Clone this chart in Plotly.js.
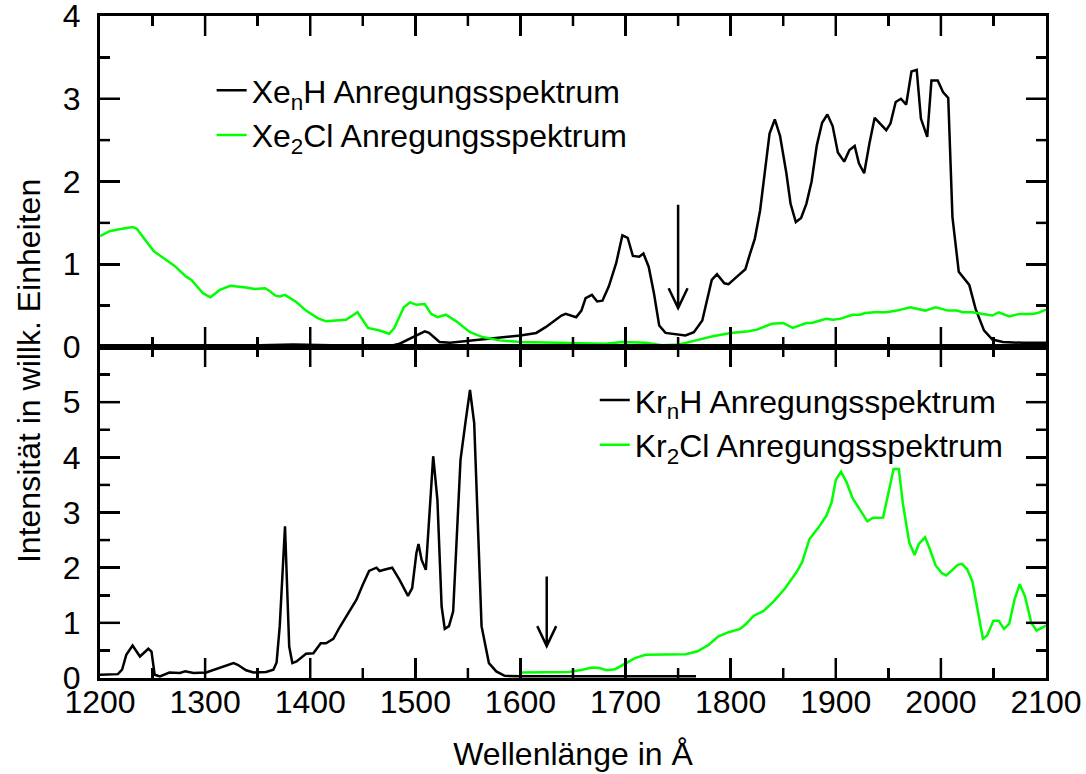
<!DOCTYPE html>
<html>
<head>
<meta charset="utf-8">
<script src="https://cdn.plot.ly/plotly-3.0.1.min.js"></script>
<style>html,body{margin:0;padding:0;background:#fff;}#chart{width:1086px;height:774px;position:absolute;left:0;top:0;}</style>
</head>
<body>
<div id="chart"></div>
<script>
// ---- Data ----
const xeH_wl  = [1200,1250,1300,1352,1384,1420,1447,1478,1485,1501,1509,1513,1523,1533,1564,1600,1615,1624,1639,1643,1653,1658,1662,1668,1673,1678,1684,1691,1697,1702,1707,1713,1717,1722,1727,1732,1738,1748,1757,1765,1773,1782,1787,1794,1798,1806,1811,1814,1818,1823,1828,1833,1837,1842,1847,1853,1857,1862,1867,1872,1877,1882,1887,1892,1897,1902,1908,1913,1918,1922,1927,1932,1937,1948,1952,1957,1962,1967,1972,1977,1981,1987,1991,1997,2002,2007,2011,2017,2027,2033,2041,2049,2059,2078,2100];
const xeH_int = [0.01,0.01,0.01,0.02,0.03,0.02,0.02,0.02,0.04,0.14,0.19,0.17,0.06,0.05,0.09,0.14,0.17,0.24,0.38,0.40,0.36,0.44,0.59,0.63,0.55,0.56,0.73,1.01,1.35,1.32,1.10,1.09,1.13,0.97,0.65,0.26,0.17,0.15,0.14,0.18,0.32,0.81,0.88,0.77,0.76,0.85,0.91,0.94,1.11,1.31,1.65,2.18,2.58,2.75,2.55,2.10,1.73,1.51,1.56,1.73,2.00,2.44,2.71,2.81,2.67,2.35,2.24,2.38,2.43,2.22,2.10,2.46,2.77,2.62,2.70,2.96,3.00,2.93,3.33,3.35,2.76,2.54,3.22,3.22,3.08,3.01,1.57,0.91,0.75,0.46,0.20,0.09,0.06,0.05,0.05];

const xeCl_wl  = [1200,1209,1217,1231,1235,1251,1263,1271,1282,1287,1298,1305,1314,1324,1339,1347,1357,1361,1367,1371,1376,1387,1396,1407,1415,1434,1445,1455,1466,1475,1480,1489,1495,1501,1509,1515,1521,1529,1539,1552,1564,1580,1600,1628,1659,1681,1697,1719,1735,1751,1767,1783,1800,1817,1825,1839,1850,1859,1872,1877,1891,1897,1904,1916,1923,1928,1937,1948,1958,1971,1985,1995,2007,2015,2021,2030,2040,2049,2055,2065,2075,2087,2092,2100];
const xeCl_int = [1.34,1.40,1.42,1.45,1.43,1.16,1.05,0.98,0.85,0.81,0.65,0.60,0.69,0.74,0.72,0.70,0.71,0.68,0.62,0.61,0.63,0.54,0.44,0.35,0.31,0.33,0.42,0.23,0.20,0.16,0.23,0.48,0.54,0.51,0.52,0.40,0.36,0.39,0.31,0.18,0.12,0.08,0.06,0.05,0.04,0.04,0.06,0.05,0.02,0.03,0.08,0.13,0.17,0.19,0.21,0.28,0.29,0.23,0.29,0.29,0.34,0.33,0.34,0.39,0.39,0.41,0.42,0.42,0.44,0.48,0.44,0.48,0.44,0.44,0.42,0.42,0.40,0.38,0.42,0.37,0.40,0.40,0.41,0.45];

const krH_wl  = [1200,1217,1221,1225,1231,1238,1246,1249,1252,1257,1266,1271,1276,1281,1289,1301,1317,1327,1331,1339,1346,1358,1365,1368,1371,1376,1380,1383,1387,1396,1403,1410,1415,1422,1428,1437,1444,1450,1456,1463,1466,1472,1478,1485,1493,1497,1501,1503,1506,1510,1513,1517,1521,1525,1528,1532,1536,1540,1543,1548,1552,1556,1560,1563,1570,1577,1585,1600,1659,1751,1767];
const krH_int = [0.06,0.07,0.15,0.42,0.59,0.39,0.53,0.48,0.06,0.03,0.10,0.09,0.09,0.12,0.09,0.10,0.21,0.27,0.24,0.14,0.10,0.11,0.15,0.28,0.94,2.75,0.57,0.27,0.30,0.44,0.45,0.63,0.63,0.71,0.92,1.19,1.42,1.69,1.94,2.00,1.94,1.97,2.00,1.78,1.49,1.63,2.26,2.43,2.14,1.96,2.87,4.02,3.23,1.30,0.89,0.94,1.21,2.75,3.96,4.68,5.22,4.62,2.63,0.94,0.27,0.12,0.04,0.03,0.03,0.04,0.03];

const krCl_wl  = [1601,1627,1646,1659,1668,1675,1682,1690,1700,1709,1719,1734,1757,1768,1779,1788,1798,1809,1814,1822,1831,1841,1852,1863,1868,1875,1884,1891,1896,1900,1905,1910,1916,1924,1930,1935,1945,1949,1955,1960,1964,1970,1975,1979,1985,1989,1995,2001,2005,2011,2016,2020,2025,2030,2035,2040,2044,2050,2055,2060,2065,2070,2075,2080,2086,2091,2100];
const krCl_int = [0.10,0.10,0.11,0.15,0.19,0.18,0.14,0.16,0.26,0.36,0.42,0.42,0.43,0.48,0.60,0.75,0.83,0.89,0.97,1.13,1.21,1.39,1.63,1.93,2.10,2.52,2.74,2.94,3.18,3.59,3.74,3.56,3.26,3.02,2.84,2.90,2.91,3.26,3.79,3.79,3.14,2.45,2.23,2.43,2.55,2.36,2.04,1.90,1.86,1.96,2.05,2.07,1.97,1.75,1.24,0.71,0.77,1.04,1.04,0.89,0.98,1.42,1.70,1.48,1.00,0.86,0.95];

const seriesNames = ['Xe<sub>n</sub>H Anregungsspektrum','Xe<sub>2</sub>Cl Anregungsspektrum','Kr<sub>n</sub>H Anregungsspektrum','Kr<sub>2</sub>Cl Anregungsspektrum'];
const yTicksBottom = [0, 1, 2, 3, 4, 5];
const xTitle = 'Wellenlänge in Å';
const yTitle = 'Intensität in willk. Einheiten';

// ---- Styling ----
const FONT = 'Liberation Sans, Arial, Helvetica, sans-serif';
const FS = 32;
const BLACK = '#000000';
const GREEN = '#00ff00';
const LW = 2.5;
const MAJOR_LEN = 20, MINOR_LEN = 10, TICK_W = 2.5;
const PLOT_W = 946, PANEL_H = 331;
const X_RANGE = [1200, 2100], Y_RANGE_TOP = [0, 4], Y_RANGE_BOTTOM = [0, 6];

function fnt() { return {family: FONT, size: FS, color: BLACK}; }
function axisBase(extra) {
  return Object.assign({
    showline: true, linecolor: BLACK, linewidth: 3, mirror: 'ticks',
    ticks: 'inside', ticklen: MAJOR_LEN, tickwidth: TICK_W, tickcolor: BLACK,
    showgrid: false, zeroline: false, ticklabeloverflow: 'allow', tickfont: fnt()
  }, extra);
}

const traces = [
  {x: xeH_wl, y: xeH_int, name: seriesNames[0], type: 'scatter', mode: 'lines', line: {color: BLACK, width: LW}, xaxis: 'x', yaxis: 'y', legend: 'legend'},
  {x: xeCl_wl, y: xeCl_int, name: seriesNames[1], type: 'scatter', mode: 'lines', line: {color: GREEN, width: LW}, xaxis: 'x', yaxis: 'y', legend: 'legend'},
  {x: krH_wl, y: krH_int, name: seriesNames[2], type: 'scatter', mode: 'lines', line: {color: BLACK, width: LW}, xaxis: 'x2', yaxis: 'y2', legend: 'legend2'},
  {x: krCl_wl, y: krCl_int, name: seriesNames[3], type: 'scatter', mode: 'lines', line: {color: GREEN, width: LW}, xaxis: 'x2', yaxis: 'y2', legend: 'legend2'}
];

// Inside tick marks (axis decoration) on all four sides of each panel, as line segments
// in axis units derived from the axis ranges and the panel size.
function tickTrace(xa, ya, yRange) {
  const xu = (X_RANGE[1] - X_RANGE[0]) / PLOT_W;
  const yu = (yRange[1] - yRange[0]) / PANEL_H;
  const xs = [], ys = [];
  for (let v = X_RANGE[0] + 50; v < X_RANGE[1]; v += 50) {
    const len = (v % 100 === 0 ? MAJOR_LEN : MINOR_LEN) * yu;
    xs.push(v, v, null, v, v, null);
    ys.push(yRange[0], yRange[0] + len, null, yRange[1], yRange[1] - len, null);
  }
  for (let v = yRange[0] + 0.5; v < yRange[1]; v += 0.5) {
    const len = (Number.isInteger(v) ? MAJOR_LEN : MINOR_LEN) * xu;
    xs.push(X_RANGE[0], X_RANGE[0] + len, null, X_RANGE[1], X_RANGE[1] - len, null);
    ys.push(v, v, null, v, v, null);
  }
  return {x: xs, y: ys, xaxis: xa, yaxis: ya, type: 'scatter', mode: 'lines', connectgaps: false,
          line: {color: BLACK, width: TICK_W}, showlegend: false, hoverinfo: 'skip', name: 'ticks'};
}
traces.push(tickTrace('x', 'y', Y_RANGE_TOP));
traces.push(tickTrace('x2', 'y2', Y_RANGE_BOTTOM));

const layout = {
  width: 1086, height: 774,
  margin: {l: 100, r: 40, t: 16, b: 96},
  paper_bgcolor: '#ffffff', plot_bgcolor: '#ffffff',
  font: fnt(), showlegend: true,
  xaxis: axisBase({range: X_RANGE, anchor: 'y', dtick: 100, showticklabels: false,
    minor: {ticks: 'inside', ticklen: MINOR_LEN, tickwidth: TICK_W, tickcolor: BLACK, dtick: 50}}),
  yaxis: axisBase({range: Y_RANGE_TOP, anchor: 'x', domain: [0.5, 1], dtick: 1, ticklabelstandoff: 10,
    minor: {ticks: 'inside', ticklen: MINOR_LEN, tickwidth: TICK_W, tickcolor: BLACK, dtick: 0.5}}),
  xaxis2: axisBase({range: X_RANGE, anchor: 'y2', dtick: 100, ticklabelstandoff: -6,
    minor: {ticks: 'inside', ticklen: MINOR_LEN, tickwidth: TICK_W, tickcolor: BLACK, dtick: 50},
    title: {text: xTitle, font: fnt(), standoff: 24}}),
  yaxis2: axisBase({range: Y_RANGE_BOTTOM, anchor: 'x2', domain: [0, 0.5], tickvals: yTicksBottom, ticklabelstandoff: 10,
    minor: {ticks: 'inside', ticklen: MINOR_LEN, tickwidth: TICK_W, tickcolor: BLACK, dtick: 0.5}}),
  legend: {x: 0.118, y: 0.929, xanchor: 'left', yanchor: 'top', bgcolor: 'rgba(0,0,0,0)', borderwidth: 0, font: fnt()},
  legend2: {x: 0.523, y: 0.461, xanchor: 'left', yanchor: 'top', bgcolor: 'rgba(0,0,0,0)', borderwidth: 0, font: fnt()},
  annotations: [
    {text: yTitle, textangle: -90, xref: 'paper', yref: 'paper', x: 0, y: 0.4637,
     xanchor: 'center', yanchor: 'middle', xshift: -71, showarrow: false, font: fnt()}
  ],
  shapes: [
    {type: 'path', xref: 'x', yref: 'y', path: 'M1750,1.72 L1750,0.47 M1741,0.71 L1750,0.47 L1759,0.71', line: {color: BLACK, width: 2.5}},
    {type: 'path', xref: 'x2', yref: 'y2', path: 'M1625,1.84 L1625,0.58 M1616,0.94 L1625,0.58 L1634,0.94', line: {color: BLACK, width: 2.5}}
  ]
};

Plotly.newPlot('chart', traces, layout, {displayModeBar: false, staticPlot: true});
</script>
</body>
</html>
